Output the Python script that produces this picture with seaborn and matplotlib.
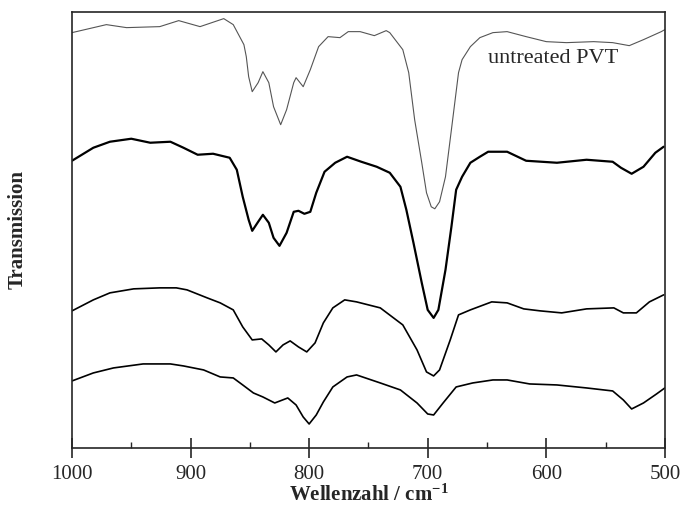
import seaborn as sns
import matplotlib.pyplot as plt
import pandas as pd
from matplotlib.ticker import MultipleLocator

# IR-Spektren, Werte (Transmission in willkuerlichen Einheiten)
wn_1 = [1000, 971, 954, 926, 910, 892, 872, 864, 855, 853, 851, 848, 843, 839, 834, 830, 824, 819,
        813, 811, 805, 799, 792, 784, 774, 767, 757, 745, 735, 732, 721, 716, 711, 705, 701, 697,
        694, 690, 685, 680, 674, 671, 664, 656, 645, 633, 617, 600, 583, 560, 544, 530, 518, 503, 500]
t_1 = [415, 423, 420, 421, 427, 421, 429, 423, 403, 391, 371, 356, 365, 376, 365, 341, 323, 338,
       365, 370, 361, 378, 401, 411, 410, 416, 416, 412, 417, 415, 398, 375, 328, 285, 255, 241,
       239, 246, 271, 318, 375, 388, 401, 410, 415, 416, 411, 406, 405, 406, 405, 402, 408, 416, 418]

wn_2 = [1000, 982, 968, 950, 934, 917, 906, 894, 881, 867, 861, 856, 851, 848, 843, 839, 834, 830,
        825, 819, 813, 809, 804, 799, 794, 787, 778, 768, 756, 743, 732, 723, 718, 712, 705, 700,
        695, 691, 685, 680, 676, 671, 664, 656, 649, 633, 617, 591, 566, 544, 537, 528, 518, 508, 501]
t_2 = [287, 300, 306, 309, 305, 306, 300, 293, 294, 290, 278, 251, 228, 217, 226, 233, 225, 210,
       202, 215, 236, 237, 234, 236, 255, 276, 285, 291, 286, 281, 275, 261, 238, 205, 165, 138,
       130, 138, 178, 221, 258, 271, 285, 291, 296, 296, 287, 285, 288, 286, 280, 274, 281, 295, 301]

wn_3 = [1000, 982, 968, 948, 926, 912, 903, 886, 875, 864, 856, 848, 840, 834, 828, 822, 816, 809,
        802, 795, 788, 780, 770, 760, 740, 721, 709, 701, 695, 690, 681, 674, 664, 646, 633, 619,
        605, 587, 566, 543, 535, 524, 513, 501]
t_3 = [137, 148, 155, 159, 160, 160, 158, 150, 145, 138, 121, 108, 109, 103, 96, 103, 107, 101,
       96, 105, 125, 140, 148, 146, 140, 123, 98, 76, 72, 78, 108, 133, 138, 146, 145, 139,
       137, 135, 139, 140, 135, 135, 146, 153]

wn_4 = [1000, 982, 965, 940, 917, 906, 889, 875, 864, 856, 847, 839, 829, 818, 811, 805, 800, 794,
        788, 780, 768, 760, 740, 723, 709, 700, 695, 687, 676, 662, 645, 633, 614, 591, 566, 544,
        535, 528, 518, 507, 500]
t_4 = [67, 75, 80, 84, 84, 82, 78, 71, 70, 63, 55, 51, 45, 50, 43, 31, 24, 33,
       46, 61, 71, 73, 65, 58, 45, 34, 33, 45, 61, 65, 68, 68, 64, 63, 60, 57,
       48, 39, 45, 54, 60]

sns.set_style('ticks')
plt.rcParams['font.family'] = ['Liberation Serif', 'DejaVu Serif']
plt.rcParams['mathtext.default'] = 'regular'

fig = plt.figure(figsize=(6.83, 5.28), dpi=100)
ax = fig.add_axes([0.1054, 0.1515, 0.868, 0.8265])

styles = [(wn_1, t_1, '#555555', 0.8), (wn_2, t_2, 'black', 1.6),
          (wn_3, t_3, 'black', 1.2), (wn_4, t_4, 'black', 1.2)]
for wn, t, col, lw in styles:
    df = pd.DataFrame({'wn': wn, 't': t})
    sns.lineplot(data=df, x='wn', y='t', ax=ax, color=col, linewidth=lw, sort=False)

ax.set_xlim(1000, 500)
ax.set_ylim(0, 436)
ax.set_yticks([])
ax.xaxis.set_major_locator(MultipleLocator(100))
ax.xaxis.set_minor_locator(MultipleLocator(50))
ax.tick_params(axis='x', which='major', direction='inout', length=14, width=1.2,
               labelsize=15, pad=5)
ax.tick_params(axis='x', which='minor', direction='in', length=4, width=1)
for s in ax.spines.values():
    s.set_linewidth(1.2)
    s.set_visible(True)

ax.text(649, 389, 'untreated PVT', fontsize=16, va='center', ha='left')

ax.set_xlabel('Wellenzahl / cm$^{-1}$', fontsize=15, fontweight='bold', labelpad=1)
ax.set_ylabel('Transmission', fontsize=15, fontweight='bold', labelpad=32)

plt.savefig('out.png', dpi=100)
